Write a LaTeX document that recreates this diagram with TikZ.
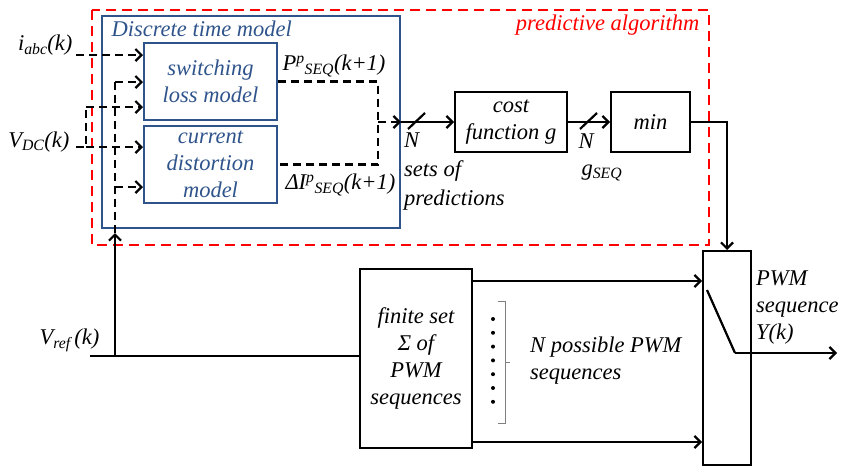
\documentclass[tikz,border=0pt]{standalone}
\usepackage{fontspec}
\setmainfont{Liberation Serif}
\usetikzlibrary{arrows.meta}
\definecolor{boxblue}{RGB}{47,84,140}

\begin{document}
\begin{tikzpicture}[x=1pt,y=-1pt,
		font=\fontsize{22.5}{27}\selectfont\itshape,
		>={Straight Barb[length=6pt,width=12pt]},
		sig/.style={line width=2.2pt},
		dsh/.style={line width=2.2pt,dash pattern=on 8pt off 5pt},
		blk/.style={draw,line width=2pt,align=center,inner sep=0pt},
		mdl/.style={blk,draw=boxblue,text=boxblue,minimum width=133pt,minimum height=77pt},
		txt/.style={align=left,inner sep=0pt}]
			\useasboundingbox (0,0) rectangle (841,466);
			% predictive algorithm
			\draw[red,line width=2pt,dash pattern=on 10pt off 6pt] (92,10) rectangle (709,245);
			\node[red,anchor=east] (alg) at (703,25) {predictive algorithm};
			% discrete time model
			\node[blk,draw=boxblue,minimum width=298pt,minimum height=212pt] (dtm) at (251,122) {};
			\node[boxblue,anchor=west] (dtmlbl) at (108,29) {Discrete time model};
			\node[mdl] (sw) at (210.5,81.5) {switching\\loss model};
			\node[mdl] (cd) at (210.5,164.5) {current\\distortion\\model};
			% blocks
			\node[blk,minimum width=112pt,minimum height=60pt] (cost) at (511,122) {cost\\function g};
			\node[blk,minimum width=79pt,minimum height=60pt] (min) at (650.5,122) {min};
			\node[blk,minimum width=112pt,minimum height=179pt] (fin) at (416,358.5) {finite set\\Σ of\\PWM\\sequences};
			\node[blk,minimum width=48pt,minimum height=214pt] (sel) at (727,358) {};
			% labels
			\node[anchor=east] (iabc) at (76,45) {i\textsubscript{abc}(k)};
			\node[anchor=east] (vdc) at (73,142) {V\textsubscript{DC}(k)};
			\node[anchor=east] (vref) at (103,340) {V\textsubscript{ref}\,(k)};
			\node[anchor=west] (pseq) at (279,66) {P\textsuperscript{p}\textsubscript{SEQ}(k+1)};
			\node[anchor=west] (iseq) at (282,185) {ΔI\textsuperscript{p}\textsubscript{SEQ}(k+1)};
			\node[txt,anchor=north west,font=\fontsize{22.5}{29}\selectfont\itshape] (nsets) at (404,133) {N\\sets of\\predictions};
			\node[anchor=west] (n2) at (575,141) {N};
			\node[anchor=west] (gseq) at (578,173) {g\textsubscript{SEQ}};
			\node[txt,anchor=west] (npos) at (530,361) {N possible PWM\\sequences};
			\node[txt,anchor=west] (pwm) at (756,308) {PWM\\sequence\\Υ(k)};
			% inputs
			\coordinate (ia) at (76,55);
			\coordinate (va) at (76,147);
			\coordinate (vb) at (86,147);
			\coordinate (vc) at (86,107);
			\draw[dsh,->] (ia) -- (ia -| sw.west);
			\draw[dsh] (va) -- (vb) -- (vc);
			\draw[dsh,->] (vc) -- (vc -| sw.west);
			\draw[dsh,->] (vb) -- (vb -| cd.west);
			\coordinate (ra) at (90,356);
			\coordinate (rb) at (115,356);
			\coordinate (rc) at (115,233);
			\coordinate (rd) at (115,82);
			\coordinate (re) at (115,187);
			\draw[sig] (ra) -- (ra -| fin.west);
			\draw[sig,->] (rb) -- (rc);
			\draw[dsh] (rc) -- (rd);
			\draw[dsh,->] (rd) -- (rd -| sw.west);
			\draw[dsh,->] (re) -- (re -| cd.west);
			% predictions
			\coordinate (oa) at (378,81.5);
			\coordinate (ob) at (378,164.5);
			\coordinate (oc) at (378,122);
			\draw[dsh] (sw.east) -- (oa) -- (ob) -- (cd.east);
			\draw[dsh,->] (oc) -- (dtm.east);
			\draw[sig,->] (dtm.east) -- (cost.west);
			\draw[sig,->] (cost.east) -- (min.west);
			\draw[sig] (408,129) -- (425,113);
			\draw[sig] (580,129) -- (597,113);
			\coordinate (ma) at (727,122);
			\draw[sig,->] (min.east) -- (ma) -- (sel.north);
			% sequences
			\draw[sig,->] (fin.east |- 0,281) -- (sel.west |- 0,281);
			\draw[sig,->] (fin.east |- 0,442) -- (sel.west |- 0,442);
			\foreach \k in {0,...,6}
				\fill (493,319+13.8*\k) circle (2pt);
			\draw[gray,line width=1pt] (498,301) -- (505,301) -- (505,423) -- (498,423)
				(505,362) -- (510,362);
			% switch
			\coordinate (s1) at (707,290);
			\coordinate (s2) at (735,353);
			\coordinate (out) at (837,353);
			\draw[sig] (s1) -- (s2);
			\draw[sig,->] (s2) -- (out);
\end{tikzpicture}
\end{document}
